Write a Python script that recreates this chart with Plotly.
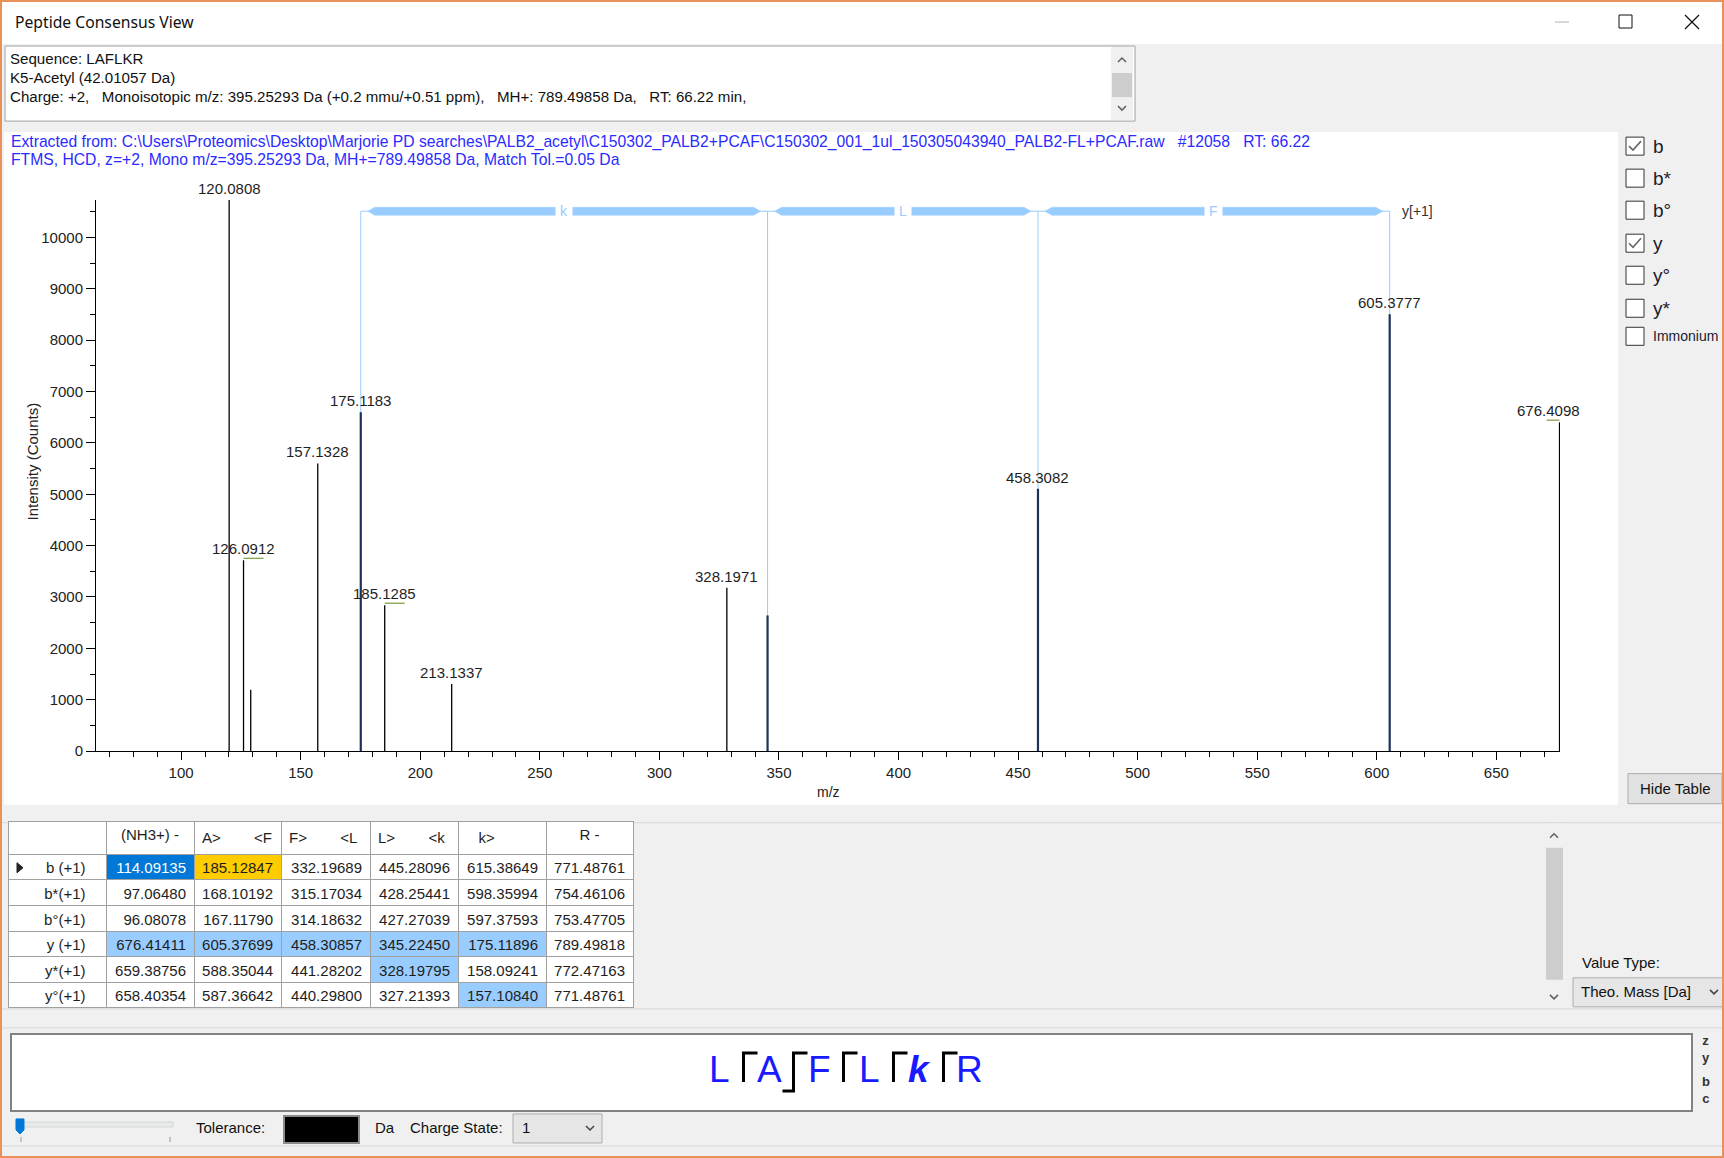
import plotly.graph_objects as go

W, H = 1724, 1158
HL = 1167  # the page is photographed slightly compressed vertically; this compensates
FONT = "Liberation Sans"
UI = "Noto Sans"

# ---------------- data ----------------
peak_mz = [120.0808, 126.0912, 129.1020, 157.1328, 175.1183, 185.1285, 213.1337,
           328.1971, 345.2240, 458.3082, 605.3777, 676.4098]
peak_int = [10731, 3715, 1193, 5600, 6595, 2840, 1305, 3182, 2641, 5107, 8504, 6404]
peak_labels = ["120.0808", "126.0912", "", "157.1328", "175.1183", "185.1285", "213.1337",
               "328.1971", "", "458.3082", "605.3777", "676.4098"]
isotope_mz = [126.0912, 185.1285, 676.4098]

sequence = ["L", "A", "F", "L", "k", "R"]
bracket_mz = [175.11896, 345.22450, 458.30857, 605.37699]
bracket_res = ["k", "L", "F"]
bracket_level = 10512

ion_rows = ["b (+1)", "b*(+1)", "b°(+1)", "y (+1)", "y*(+1)", "y°(+1)"]
col_headers = ["", "(NH3+) -", "A>\u00a0\u00a0\u00a0\u00a0\u00a0\u00a0\u00a0\u00a0&lt;F",
               "F>\u00a0\u00a0\u00a0\u00a0\u00a0\u00a0\u00a0\u00a0&lt;L",
               "L>\u00a0\u00a0\u00a0\u00a0\u00a0\u00a0\u00a0\u00a0&lt;k",
               "\u00a0\u00a0\u00a0k>", "R -"]
b_ions = [114.09135, 185.12847, 332.19689, 445.28096, 615.38649, 771.48761]
b_star = [97.06480, 168.10192, 315.17034, 428.25441, 598.35994, 754.46106]
b_zero = [96.08078, 167.11790, 314.18632, 427.27039, 597.37593, 753.47705]
y_ions = [676.41411, 605.37699, 458.30857, 345.22450, 175.11896, 789.49818]
y_star = [659.38756, 588.35044, 441.28202, 328.19795, 158.09241, 772.47163]
y_zero = [658.40354, 587.36642, 440.29800, 327.21393, 157.10840, 771.48761]
match_tol = 0.05

checkbox_labels = ["b", "b*", "b°", "y", "y°", "y*", "Immonium"]
checkbox_checked = [True, False, False, True, False, False, False]

# ---------------- helpers ----------------
def px(x): return x / W
def py(y): return 1 - y / H

shapes, anns = [], []

def rect(x0, y0, x1, y1, fill=None, line=None, lw=1, layer="below"):
    shapes.append(dict(type="rect", xref="paper", yref="paper",
                       x0=px(x0), x1=px(x1), y0=py(y1), y1=py(y0),
                       fillcolor=fill or "rgba(0,0,0,0)",
                       line=dict(color=line or "rgba(0,0,0,0)", width=lw if line else 0),
                       layer=layer))

def seg(x0, y0, x1, y1, color, lw=1, layer="above"):
    shapes.append(dict(type="line", xref="paper", yref="paper",
                       x0=px(x0), x1=px(x1), y0=py(y0), y1=py(y1),
                       line=dict(color=color, width=lw), layer=layer))

def path(points, color, lw=1, fill=None, closed=False, layer="above"):
    d = "M " + " L ".join(f"{px(x):.6f},{py(y):.6f}" for x, y in points)
    if closed:
        d += " Z"
    shapes.append(dict(type="path", xref="paper", yref="paper", path=d,
                       line=dict(color=color, width=lw),
                       fillcolor=fill or "rgba(0,0,0,0)", layer=layer))

def text(x, y, s, size=15, color="#1e1e1e", xanchor="left", family=FONT, **kw):
    anns.append(dict(xref="paper", yref="paper", x=px(x), y=py(y), text=s,
                     showarrow=False, xanchor=xanchor, yanchor="middle",
                     font=dict(family=family, size=size, color=color), **kw))

def chev_up(x, y, c="#606060"):
    path([(x - 4, y + 2), (x, y - 2), (x + 4, y + 2)], c, 1.5)

def chev_down(x, y, c="#606060"):
    path([(x - 4, y - 2), (x, y + 2), (x + 4, y - 2)], c, 1.5)

NB = "\u00a0"

# ---------------- window chrome ----------------
rect(0, 0, W, 44, fill="white")
text(13, 22, "Peptide Consensus View", 15.7, "#111", family=UI)
seg(1555, 22, 1569, 22, "#b0b0b0", 1)
rect(1619, 15, 1632, 28, line="#111", lw=1, layer="above")
seg(1685, 15, 1699, 29, "#111", 1.2)
seg(1699, 15, 1685, 29, "#111", 1.2)

# info box
rect(5, 46, 1135, 121, fill="white", line="#a0a0a0", lw=1)
rect(1111, 47, 1133, 120, fill="#f0f0f0")
rect(1112, 73, 1132, 97, fill="#cdcdcd")
chev_up(1122, 60)
chev_down(1122, 108)
info_lines = ["Sequence: LAFLKR", "K5-Acetyl (42.01057 Da)",
              "Charge: +2," + NB * 3 + "Monoisotopic m/z: 395.25293 Da (+0.2 mmu/+0.51 ppm)," + NB * 3
              + "MH+: 789.49858 Da," + NB * 3 + "RT: 66.22 min,"]
for i, s in enumerate(info_lines):
    text(8, 58 + 19 * i, s, 15.1, "#111")

# chart panel
rect(4, 132, 1618, 804, fill="white")
hdr1 = ("Extracted from: C:\\Users\\Proteomics\\Desktop\\Marjorie PD searches\\PALB2_acetyl\\"
        "C150302_PALB2+PCAF\\C150302_001_1ul_150305043940_PALB2-FL+PCAF.raw" + NB * 3
        + "#12058" + NB * 3 + "RT: 66.22")
text(9, 142, hdr1, 15.7, "#2b2bff")
text(9, 159.5, "FTMS, HCD, z=+2, Mono m/z=395.25293 Da, MH+=789.49858 Da, Match Tol.=0.05 Da", 15.7, "#2b2bff")

# right panel checkboxes
cb_y = [146, 178, 210, 243, 275, 308, 336]
for yy, lab, chk in zip(cb_y, checkbox_labels, checkbox_checked):
    rect(1626, yy - 9, 1644, yy + 9, fill="white", line="#333", lw=1, layer="above")
    if chk:
        path([(1629, yy), (1633, yy + 4), (1641, yy - 5)], "#666", 1.6)
    text(1651, yy, lab, 14 if lab == "Immonium" else 19, "#1c1c30")

# hide table button
rect(1628, 773, 1722, 803, fill="#e1e1e1", line="#adadad", lw=1)
text(1675, 788, "Hide Table", 15, "#111", xanchor="center")

# separators
seg(0, 822, W, 822, "#d9d9d9", 1, layer="below")
seg(0, 1008, W, 1008, "#d9d9d9", 1, layer="below")
seg(0, 1027, W, 1027, "#d9d9d9", 1, layer="below")
seg(0, 1145, W, 1145, "#d9d9d9", 1, layer="below")

# table scrollbar
rect(1545, 823, 1564, 1007, fill="#f0f0f0")
rect(1546, 847, 1563, 979, fill="#cdcdcd")
chev_up(1554, 835)
chev_down(1554, 996)
text(1580, 962, "Value Type:", 15, "#111")
rect(1573, 977, 1726, 1006, fill="#e6e6e6", line="#adadad", lw=1)
text(1579, 991, "Theo. Mass [Da]", 15, "#111")
chev_down(1714, 991, "#444")

# row indicator
path([(17, 862), (23, 867), (17, 872)], "#222", 1, fill="#222", closed=True)

# sequence box
rect(11, 1033, 1692, 1110, fill="white", line="#828282", lw=2)
text(1706, 1048, "<b>z<br>y</b>", 13, "#333", xanchor="center")
text(1706, 1089, "<b>b<br>c</b>", 13, "#333", xanchor="center")

# ---------------- table matching ----------------
series = [b_ions, b_star, b_zero, y_ions, y_star, y_zero]
is_b = [True, True, True, False, False, False]

def matched(v):
    return any(abs(v - m) <= match_tol for m in peak_mz)

ncol = len(b_ions)
cols = [[lab + NB * 3 for lab in ion_rows]]
fills = [["white"] * len(ion_rows)]
fcols = [["#1e1e1e"] * len(ion_rows)]
for j in range(ncol):
    vals, fc, tc = [], [], []
    for r, srs in enumerate(series):
        v = srs[j]
        vals.append(f"{v:.5f}")
        if r == 0 and j == 0:
            fc.append("#0078d7"); tc.append("white")
        elif matched(v):
            fc.append("#ffcc00" if is_b[r] else "#99ccff"); tc.append("#1e1e1e")
        else:
            fc.append("white"); tc.append("#1e1e1e")
    cols.append(vals); fills.append(fc); fcols.append(tc)

# sequence letters with fragment brackets
cx0, step = 719.5, 50
for i, aa in enumerate(sequence):
    s = "<b><i>" + aa + "</i></b>" if aa.islower() else aa
    text(cx0 + step * i, 1069, s, 37, "#1a1aff", xanchor="center")
for c in range(len(sequence) - 1):
    y_hit = any(matched(srs[c]) for srs, b in zip(series, is_b) if not b)
    b_hit = any(matched(srs[c]) for srs, b in zip(series, is_b) if b)
    vx = cx0 + step * c + 24
    if y_hit:
        path([(vx, 1081), (vx, 1052), (vx + 14, 1052)], "#000", 3)
    if b_hit:
        path([(vx, 1052), (vx, 1090), (vx - 11, 1090)], "#000", 3)

# bottom controls
rect(16, 1121, 173, 1126, fill="#e7eaea", line="#d6d6d6", lw=1)
path([(16, 1118), (24, 1118), (24, 1129), (20, 1133), (16, 1129)], "#0078d7", 1, fill="#0078d7", closed=True)
seg(21, 1136, 21, 1141, "#999")
seg(170, 1136, 170, 1141, "#999")
text(194, 1127, "Tolerance:", 15, "#111")
rect(284, 1115, 359, 1142, fill="black", line="#8a8a8a", lw=2)
text(373, 1127, "Da", 15, "#111")
text(408, 1127, "Charge State:", 15, "#111")
rect(513, 1113, 602, 1142, fill="#e6e6e6", line="#adadad", lw=1)
text(520, 1127, "1", 15, "#111")
chev_down(590, 1127, "#444")

# window border
rect(1, 1, W - 1, 1156, line="#e8915a", lw=2, layer="above")

# ---------------- chart ----------------
XR = (64.4, 676.6); XD = (96, 1560)
YR = (0, 10731); YD = (750.4, 199.8)
ux = (XR[1] - XR[0]) / (XD[1] - XD[0])
uy = (YR[1] - YR[0]) / (YD[0] - YD[1])
def dxp(v): return XD[0] + (v - XR[0]) / ux

traces = []
vx_, vy_ = [], []
for m in bracket_mz:
    vx_ += [m, m, None]; vy_ += [0, bracket_level, None]
traces.append(go.Scatter(x=vx_, y=vy_, mode="lines", line=dict(color="#99ccff", width=1), hoverinfo="skip"))
tx, ty, bx, by = [], [], [], []
thin, taper, half = 7 * ux, 7 * ux, 4 * uy
for a, b in zip(bracket_mz[:-1], bracket_mz[1:]):
    tx += [a, b, None]; ty += [bracket_level, bracket_level, None]
    bx += [a + thin, a + thin + taper, b - thin - taper, b - thin, b - thin - taper, a + thin + taper, a + thin, None]
    by += [bracket_level, bracket_level + half, bracket_level + half, bracket_level,
           bracket_level - half, bracket_level - half, bracket_level, None]
traces.append(go.Scatter(x=tx, y=ty, mode="lines", line=dict(color="#99ccff", width=1), hoverinfo="skip"))
traces.append(go.Scatter(x=bx, y=by, mode="lines", fill="toself", fillcolor="#99ccff",
                         line=dict(color="#99ccff", width=0.5), hoverinfo="skip"))

def is_annot(m):
    return any(abs(m - b) <= match_tol for b in bracket_mz)
px_n, py_n, px_m, py_m = [], [], [], []
for m, it in zip(peak_mz, peak_int):
    if is_annot(m):
        px_m += [m, m, None]; py_m += [0, it, None]
    else:
        px_n += [m, m, None]; py_n += [0, it, None]
traces.append(go.Scatter(x=px_n, y=py_n, mode="lines", line=dict(color="#000000", width=1.3), hoverinfo="skip"))
traces.append(go.Scatter(x=px_m, y=py_m, mode="lines", line=dict(color="#1d3258", width=2.2), hoverinfo="skip"))

ix, iy = [], []
for m in isotope_mz:
    it = peak_int[peak_mz.index(m)] + 2 * uy
    if dxp(m) + 25 > XD[1]:
        ix += [m - 13 * ux, m, None]
    else:
        ix += [m, m + 20 * ux, None]
    iy += [it, it, None]
traces.append(go.Scatter(x=ix, y=iy, mode="lines", line=dict(color="#7a9a3a", width=1.2), hoverinfo="skip"))

data_anns = []
for m, it, lab in zip(peak_mz, peak_int, peak_labels):
    if not lab:
        continue
    w = 7.9 * len(lab)
    shift = min(0, 1580 - (dxp(m) + w / 2))
    data_anns.append(dict(x=m, y=it, xref="x", yref="y", text=lab, showarrow=False,
                          xanchor="center", yanchor="bottom", yshift=1, xshift=shift,
                          font=dict(family=FONT, size=15, color="#1e1e1e")))
for a, b, r in zip(bracket_mz[:-1], bracket_mz[1:], bracket_res):
    data_anns.append(dict(x=(a + b) / 2, y=bracket_level, xref="x", yref="y", text=r,
                          showarrow=False, xanchor="center", yanchor="middle",
                          bgcolor="white", borderpad=4,
                          font=dict(family=FONT, size=14, color="#99ccff")))
data_anns.append(dict(x=bracket_mz[-1], y=bracket_level, xref="x", yref="y", text="y[+1]",
                      showarrow=False, xanchor="left", yanchor="middle", xshift=10,
                      font=dict(family=FONT, size=14, color="#333")))

text(828, 791, "m/z", 14, "#222", xanchor="center")
anns.append(dict(xref="paper", yref="paper", x=px(32), y=py(461), text="Intensity (Counts)",
                 showarrow=False, textangle=-90, xanchor="center", yanchor="middle",
                 font=dict(family=FONT, size=15, color="#222")))

table = go.Table(
    domain=dict(x=[px(8), px(633)], y=[py(1008), py(820.5)]),
    columnwidth=[98, 88, 87, 89, 88, 88, 87],
    header=dict(values=col_headers, fill_color="white", line_color="#a0a0a0",
                align=["center", "center", "left", "left", "left", "left", "center"],
                height=27, font=dict(family=FONT, size=15, color="#1e1e1e")),
    cells=dict(values=cols, fill_color=fills, line_color="#a0a0a0",
               align=["right"] * 7, height=25.6,
               font=dict(family=FONT, size=15, color=fcols)),
)

fig = go.Figure(data=traces + [table])
fig.update_layout(
    width=W, height=HL, autosize=False,
    margin=dict(l=0, r=0, t=0, b=0, pad=0),
    paper_bgcolor="#f0f0f0", plot_bgcolor="rgba(0,0,0,0)",
    showlegend=False,
    shapes=shapes,
    annotations=anns + data_anns,
    xaxis=dict(domain=[px(XD[0]), px(XD[1])], range=list(XR), showline=True, linecolor="#000",
               linewidth=1, ticks="outside", ticklen=8, tickcolor="#000", tick0=0, dtick=50,
               minor=dict(dtick=10, ticklen=5, ticks="outside", tickcolor="#000"),
               showgrid=False, zeroline=False, fixedrange=True,
               tickfont=dict(family=FONT, size=15, color="#222")),
    yaxis=dict(domain=[py(YD[0]), py(YD[1])], range=list(YR), showline=True, linecolor="#000",
               linewidth=1, ticks="outside", ticklen=9, tickcolor="#000", tick0=0, dtick=1000,
               tickformat="d",
               minor=dict(dtick=500, ticklen=5, ticks="outside", tickcolor="#000"),
               showgrid=False, zeroline=False, fixedrange=True,
               tickfont=dict(family=FONT, size=15, color="#222")),
)
fig.write_html("out.html")
